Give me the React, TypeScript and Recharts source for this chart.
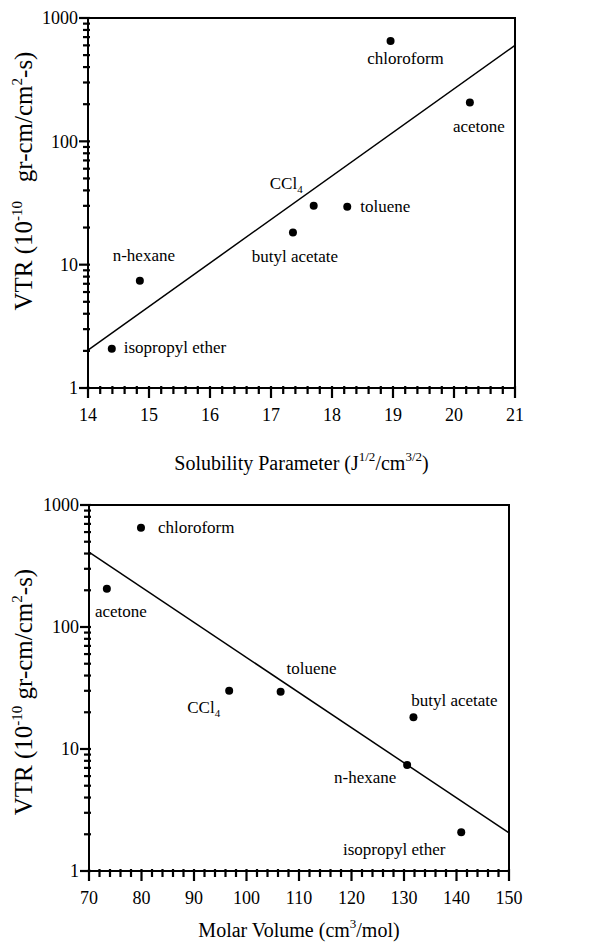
import React from 'react';
import { ScatterChart, Scatter, XAxis, YAxis, ReferenceArea } from 'recharts';

// values (VTR on a log axis)
const solvents = ['chloroform', 'acetone', 'CCl4', 'toluene', 'butyl acetate', 'n-hexane', 'isopropyl ether'];
const solubilityParameter = [18.96, 20.26, 17.7, 18.25, 17.36, 14.85, 14.39];
const molarVolume = [79.9, 73.4, 96.7, 106.5, 131.8, 130.6, 140.9];
const vtr = [650, 206, 30, 29.5, 18.2, 7.4, 2.08];

// fitted lines, end points
const solubilityFit = [{ x: 14, y: 2.03 }, { x: 21, y: 600 }];
const molarFit = [{ x: 70, y: 410 }, { x: 150, y: 2.05 }];

const vtrTicks = [1, 2, 3, 4, 5, 6, 7, 8, 9, 10, 20, 30, 40, 50, 60, 70, 80, 90, 100, 200, 300, 400, 500, 600, 700, 800, 900, 1000];
const vtrMajor = [1, 10, 100, 1000];
const solubilityTicks = [14, 15, 16, 17, 18, 19, 20, 21];
const molarTicks = [70, 80, 90, 100, 110, 120, 130, 140, 150];

const FONT = '"Liberation Serif", "DejaVu Serif", serif';
const OFF = 8; // recharts default tickSize 6 + tickMargin 2

type Pos = { dx: number; dy: number; anchor: 'start' | 'middle' | 'end' };

const solubilityLabels: Record<string, Pos> = {
  chloroform: { dx: 15, dy: 23, anchor: 'middle' },
  acetone: { dx: 9, dy: 29, anchor: 'middle' },
  CCl4: { dx: -11, dy: -17, anchor: 'end' },
  toluene: { dx: 13, dy: 5, anchor: 'start' },
  'butyl acetate': { dx: 2, dy: 29, anchor: 'middle' },
  'n-hexane': { dx: 4, dy: -20, anchor: 'middle' },
  'isopropyl ether': { dx: 12, dy: 4, anchor: 'start' },
};

const molarLabels: Record<string, Pos> = {
  chloroform: { dx: 17, dy: 5, anchor: 'start' },
  acetone: { dx: 14, dy: 28, anchor: 'middle' },
  CCl4: { dx: -9, dy: 22, anchor: 'end' },
  toluene: { dx: 31, dy: -18, anchor: 'middle' },
  'butyl acetate': { dx: 41, dy: -11, anchor: 'middle' },
  'n-hexane': { dx: -42, dy: 18, anchor: 'middle' },
  'isopropyl ether': { dx: -67, dy: 23, anchor: 'middle' },
};

// major ticks plus 4 minor ones in between
const withMinor = (major: number[]) => {
  const out: number[] = [];
  for (let i = 0; i < major.length - 1; i++) {
    const step = (major[i + 1] - major[i]) / 5;
    for (let k = 0; k < 5; k++) out.push(+(major[i] + k * step).toFixed(3));
  }
  out.push(major[major.length - 1]);
  return out;
};

// tick marks as filled rects hanging off the axis, labels on majors only
const YTick = (props: any) => {
  const { x, y, payload } = props;
  const ax = x + OFF;
  const major = vtrMajor.includes(payload.value);
  const len = major ? 9 : 5;
  return (
    <g>
      <rect x={ax - len} y={y - 1.1} width={len + 2} height={2.2} fill="#000" />
      {major && (
        <text x={ax - len - 1} y={y} dy="0.35em" textAnchor="end" fontFamily={FONT} fontSize={18} fill="#000">
          {payload.value}
        </text>
      )}
    </g>
  );
};

const makeXTick = (majors: number[]) => (props: any) => {
  const { x, y, payload } = props;
  const ay = y - OFF;
  const major = majors.includes(payload.value);
  return (
    <g>
      <rect x={x - 1.1} y={ay - 2} width={2.2} height={(major ? 10 : 6) + 2} fill="#000" />
      {major && (
        <text x={x} y={ay + 33} textAnchor="middle" fontFamily={FONT} fontSize={18} fill="#000">
          {payload.value}
        </text>
      )}
    </g>
  );
};

const makeDot = (labels: Record<string, Pos>) => (props: any) => {
  const { cx, cy, payload } = props;
  const p = labels[payload.name];
  const isCCl4 = payload.name === 'CCl4';
  return (
    <g>
      <circle cx={cx} cy={cy} r={4} fill="#000" />
      <text x={cx + p.dx} y={cy + p.dy} textAnchor={p.anchor} fontFamily={FONT} fontSize={17} fill="#000">
        {isCCl4 ? (
          <>
            CCl<tspan dy={4} fontSize={11}>4</tspan>
          </>
        ) : (
          payload.name
        )}
      </text>
    </g>
  );
};

const yTitle = (shift: number, gap: string) => (props: any) => {
  const vb = props.viewBox;
  const cx = 32;
  const cy = vb.y + vb.height / 2 + shift;
  return (
    <text x={cx} y={cy} transform={`rotate(-90 ${cx} ${cy})`} textAnchor="middle" fontFamily={FONT} fontSize={25} fill="#000">
      VTR (10<tspan dy={-10} fontSize={15}>-10</tspan>
      <tspan dy={10}>{gap}gr-cm/cm</tspan>
      <tspan dy={-10} fontSize={15}>2</tspan>
      <tspan dy={10}>-s)</tspan>
    </text>
  );
};

const solubilityTitle = (props: any) => {
  const vb = props.viewBox;
  return (
    <text x={vb.x + vb.width / 2} y={vb.y + 82} textAnchor="middle" fontFamily={FONT} fontSize={20} fill="#000">
      Solubility Parameter (J<tspan dy={-9} fontSize={13}>1/2</tspan>
      <tspan dy={9}>/cm</tspan>
      <tspan dy={-9} fontSize={13}>3/2</tspan>
      <tspan dy={9}>)</tspan>
    </text>
  );
};

const molarTitle = (props: any) => {
  const vb = props.viewBox;
  return (
    <text x={vb.x + vb.width / 2} y={vb.y + 66} textAnchor="middle" fontFamily={FONT} fontSize={20} fill="#000">
      Molar Volume (cm<tspan dy={-9} fontSize={13}>3</tspan>
      <tspan dy={9}>/mol)</tspan>
    </text>
  );
};

const axisStroke = { stroke: '#000', strokeWidth: 2 };

const solubilityPoints = solvents.map((name, i) => ({ name, x: solubilityParameter[i], y: vtr[i] }));
const molarPoints = solvents.map((name, i) => ({ name, x: molarVolume[i], y: vtr[i] }));

export default function App() {
  return (
    <div style={{ position: 'absolute', left: 0, top: 0, width: 610, height: 944, background: '#fff' }}>
      <ScatterChart width={610} height={480} margin={{ top: 18, right: 95, bottom: 0, left: 0 }}>
        <XAxis
          type="number"
          dataKey="x"
          domain={[14, 21]}
          ticks={withMinor(solubilityTicks)}
          interval={0}
          height={92}
          axisLine={axisStroke}
          tickLine={false}
          tick={makeXTick(solubilityTicks)}
          label={{ content: solubilityTitle }}
        />
        <YAxis
          type="number"
          dataKey="y"
          scale="log"
          domain={[1, 1000]}
          ticks={vtrTicks}
          interval={0}
          width={88}
          axisLine={axisStroke}
          tickLine={false}
          tick={YTick}
          label={{ content: yTitle(-22, '\u00a0\u00a0\u00a0') }}
        />
        <ReferenceArea x1={14} x2={21} y1={1} y2={1000} fill="none" stroke="#000" strokeWidth={2} />
        <Scatter data={solubilityFit} line={{ stroke: '#000', strokeWidth: 1.5 }} shape={() => <g />} isAnimationActive={false} />
        <Scatter data={solubilityPoints} shape={makeDot(solubilityLabels)} isAnimationActive={false} />
      </ScatterChart>
      <ScatterChart width={610} height={464} margin={{ top: 25, right: 101, bottom: 0, left: 0 }}>
        <XAxis
          type="number"
          dataKey="x"
          domain={[70, 150]}
          ticks={withMinor(molarTicks)}
          interval={0}
          height={73}
          axisLine={axisStroke}
          tickLine={false}
          tick={makeXTick(molarTicks)}
          label={{ content: molarTitle }}
        />
        <YAxis
          type="number"
          dataKey="y"
          scale="log"
          domain={[1, 1000]}
          ticks={vtrTicks}
          interval={0}
          width={89}
          axisLine={axisStroke}
          tickLine={false}
          tick={YTick}
          label={{ content: yTitle(4, '\u00a0') }}
        />
        <ReferenceArea x1={70} x2={150} y1={1} y2={1000} fill="none" stroke="#000" strokeWidth={2} />
        <Scatter data={molarFit} line={{ stroke: '#000', strokeWidth: 1.5 }} shape={() => <g />} isAnimationActive={false} />
        <Scatter data={molarPoints} shape={makeDot(molarLabels)} isAnimationActive={false} />
      </ScatterChart>
    </div>
  );
}
